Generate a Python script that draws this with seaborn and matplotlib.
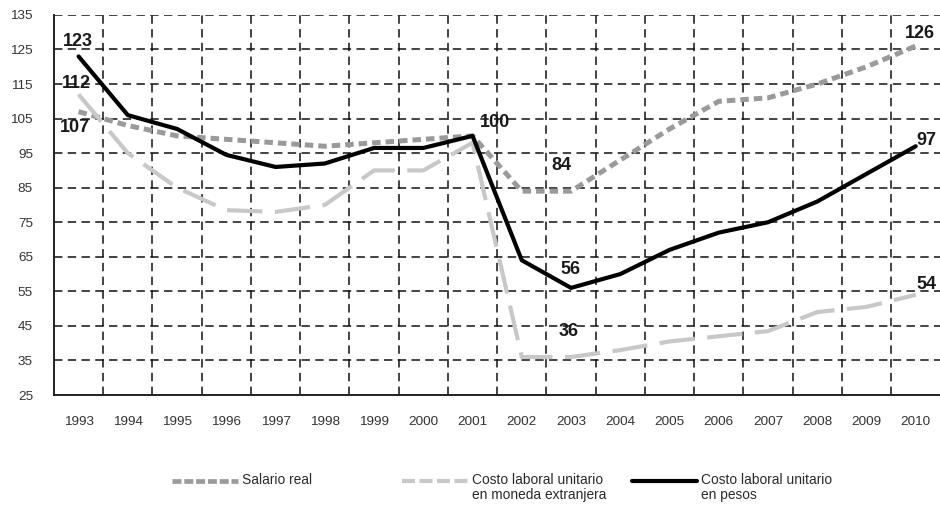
import matplotlib
matplotlib.use("Agg")
import matplotlib.pyplot as plt
import seaborn as sns
import pandas as pd
from matplotlib import font_manager
from matplotlib.lines import Line2D

years = list(range(1993, 2011))
salario_real = [107, 103, 100, 99, 98, 97, 98, 99, 100, 84, 84, 93, 102, 110, 111, 115, 120, 126]
clu_extranjera = [112, 95, 85, 78.5, 78, 80, 90, 90, 98, 36, 36, 38, 40.5, 42, 43.5, 49, 50.5, 54]
clu_pesos = [123, 106, 102, 94.5, 91, 92, 96.5, 96.5, 100, 64, 56, 60, 67, 72, 75, 81, 89, 97]

names = ["Salario real",
         "Costo laboral unitario\nen moneda extranjera",
         "Costo laboral unitario\nen pesos"]
yticks = list(range(25, 136, 10))

sns.set_theme(style="white")

# prefer a narrow face when one is installed
avail = {f.name for f in font_manager.fontManager.ttflist}
if "Liberation Sans Narrow" in avail:
    FONT = ["Liberation Sans Narrow", "DejaVu Sans"]
    scale = 1.2
else:
    FONT = ["Liberation Sans", "DejaVu Sans"]
    scale = 1.0
plt.rcParams["font.family"] = FONT

fig = plt.figure(figsize=(9.4, 5.15), dpi=100)
ax = fig.add_axes([0.0574, 0.233, 0.943, 0.738])

df = pd.DataFrame({"year": years, "sal": salario_real,
                   "ext": clu_extranjera, "pes": clu_pesos})

styles = [
    ("sal", "#9a9a9a", 3.6, (1.7, 1.0)),
    ("ext", "#c8c8c8", 3.0, (8.5, 3.0)),
    ("pes", "#000000", 3.0, None),
]
for col, color, lw, dashes in styles:
    sns.lineplot(data=df, x="year", y=col, ax=ax, color=color, lw=lw, zorder=3)
    line = ax.lines[-1]
    if dashes:
        line.set_dashes(dashes)
    line.set_solid_capstyle("round")
    line.set_solid_joinstyle("round")

ax.set_xlim(1992.5, 2010.5)
ax.set_ylim(25, 135)
ax.set_xticks(years)
ax.set_xticklabels([str(y) for y in years])
ax.set_yticks(yticks)
ax.set_xlabel("")
ax.set_ylabel("")

grid_kw = dict(color="#111111", lw=1.1, dashes=(5.5, 3.5), zorder=1)
for v in yticks[1:]:
    ax.axhline(v, **grid_kw)
for x in [y + 0.5 for y in years[:-1]]:
    ax.axvline(x, **grid_kw)

for s in ["top", "right"]:
    ax.spines[s].set_visible(False)
for s in ["left", "bottom"]:
    ax.spines[s].set_color("#222222")
    ax.spines[s].set_linewidth(1.4)

ax.tick_params(axis="both", which="both", length=0, labelsize=9.7 * scale, colors="#333333")
ax.tick_params(axis="x", pad=15)
ax.tick_params(axis="y", pad=15)

# value labels
lab_kw = dict(fontsize=13 * scale, fontweight="bold", color="#1a1a1a",
              ha="center", va="center", zorder=2)
ax.text(1992.98, 127.2, f"{clu_pesos[0]:g}", **lab_kw)
ax.text(1992.95, 115.3, f"{clu_extranjera[0]:g}", **lab_kw)
ax.text(1992.93, 102.3, f"{salario_real[0]:g}", **lab_kw)
ax.text(2001.45, 104.0, f"{clu_pesos[8]:g}", **lab_kw)
ax.text(2002.8, 91.3, f"{salario_real[10]:g}", **lab_kw)
ax.text(2002.98, 61.2, f"{clu_pesos[10]:g}", **lab_kw)
ax.text(2002.95, 43.5, f"{clu_extranjera[10]:g}", **lab_kw)
ax.text(2010.08, 129.5, f"{salario_real[-1]:g}", **lab_kw)
ax.text(2010.22, 98.8, f"{clu_pesos[-1]:g}", **lab_kw)
ax.text(2010.22, 57.1, f"{clu_extranjera[-1]:g}", **lab_kw)

# legend entries below the plot: handle aligned with the first text line
W, H = 940.0, 515.0
legend_specs = [
    (172, 238, "#9a9a9a", 3.4, (1.9, 0.6)),
    (402, 468, "#c8c8c8", 3.0, (3.1, 1.1)),
    (632, 697, "#000000", 3.0, None),
]
y_line = 1 - 481 / H
for (x0, x1, color, lw, dashes), name in zip(legend_specs, names):
    ln = Line2D([x0 / W, x1 / W], [y_line, y_line], transform=fig.transFigure,
                color=color, lw=lw)
    if dashes:
        ln.set_dashes(dashes)
    fig.add_artist(ln)
    fig.text((x1 + 4) / W, 1 - 473 / H, name, ha="left", va="top",
             fontsize=9.9 * scale, color="#2a2a2a", linespacing=1.05)

fig.savefig("out.png", dpi=100)
